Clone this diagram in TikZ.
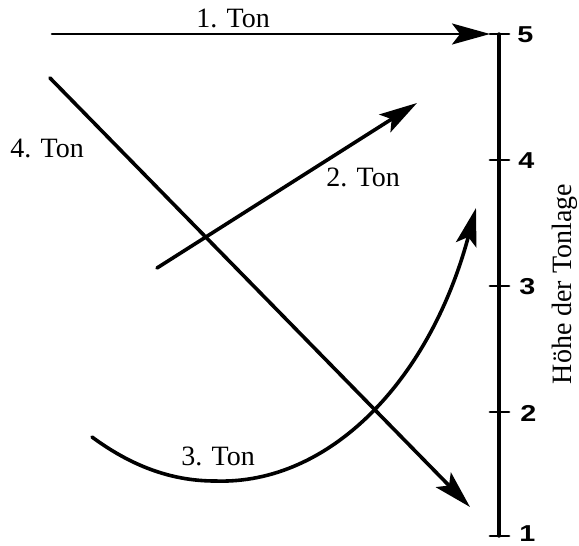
\documentclass[tikz,border=0pt]{standalone}
\usepackage{fontspec}
\setmainfont{Liberation Serif}
\setsansfont{Liberation Sans}
\usetikzlibrary{arrows.meta}
\newcommand{\breit}[1]{\scalebox{1.25}[1]{#1}}
\tikzset{
    ton/.style={line width=1.8pt, -{Stealth[length=19pt, width=10.5pt, inset=4pt]}},
    lbl/.style={inner sep=0pt, font=\fontsize{14}{16}\selectfont},
    num/.style={anchor=west, inner sep=0pt, font=\sffamily\bfseries\fontsize{11.5}{13}\selectfont},
    strich/.style={line width=1.4pt},
}
\begin{document}
\begin{tikzpicture}[x=0.5pt, y=-0.5pt, line cap=round]
        \useasboundingbox (0, 0) rectangle (579, 546);

        % Achse
        \coordinate (a-5) at (499, 34);
        \coordinate (a-4) at (499, 160);
        \coordinate (a-3) at (499, 286);
        \coordinate (a-2) at (499, 412);
        \coordinate (a-1) at (499, 536);

        \draw[line width=1.7pt] (a-5) -- (a-1);
        \draw[strich] ([xshift=-4.5pt]a-5) -- ([xshift=5pt]a-5);
        \draw[strich] ([xshift=-4.5pt]a-4) -- ([xshift=5pt]a-4);
        \draw[strich] ([xshift=-4.5pt]a-3) -- ([xshift=5pt]a-3);
        \draw[strich] ([xshift=-4.5pt]a-2) -- ([xshift=5pt]a-2);
        \draw[strich] ([xshift=-4.5pt]a-1) -- ([xshift=5pt]a-1);

        \node (n-5) at (517, 35) [num] {\breit{5}};
        \node (n-4) at (518, 161) [num] {\breit{4}};
        \node (n-3) at (519, 287) [num] {\breit{3}};
        \node (n-2) at (520, 413) [num] {\breit{2}};
        \node (n-1) at (519, 534) [num] {\breit{1}};

        \node (achse) at (565, 284) [lbl, rotate=90] {Höhe der Tonlage};

        % Töne
        \coordinate (s-1) at (52, 34);
        \coordinate (e-1) at (490, 34);
        \coordinate (s-2) at (157, 268);
        \coordinate (e-2) at (417, 103);
        \coordinate (s-3) at (92, 437);
        \coordinate (m-3) at (215, 481);
        \coordinate (e-3) at (476, 208);
        \coordinate (s-4) at (50, 78);
        \coordinate (e-4) at (470, 507);

        \draw[ton, line width=1.3pt] (s-1) -- (e-1);
        \draw[ton] (s-2) -- (e-2);
        \draw[ton] (s-3) .. controls (130, 465) and (170, 481) .. (m-3)
            .. controls (330, 485) and (430, 380) .. (e-3);
        \draw[ton] (s-4) -- (e-4);

        \node (t-1) at (233, 18) [lbl] {1. Ton};
        \node (t-2) at (363, 177) [lbl] {2. Ton};
        \node (t-3) at (218, 456) [lbl] {3. Ton};
        \node (t-4) at (47, 148) [lbl] {4. Ton};

    \end{tikzpicture}
\end{document}
